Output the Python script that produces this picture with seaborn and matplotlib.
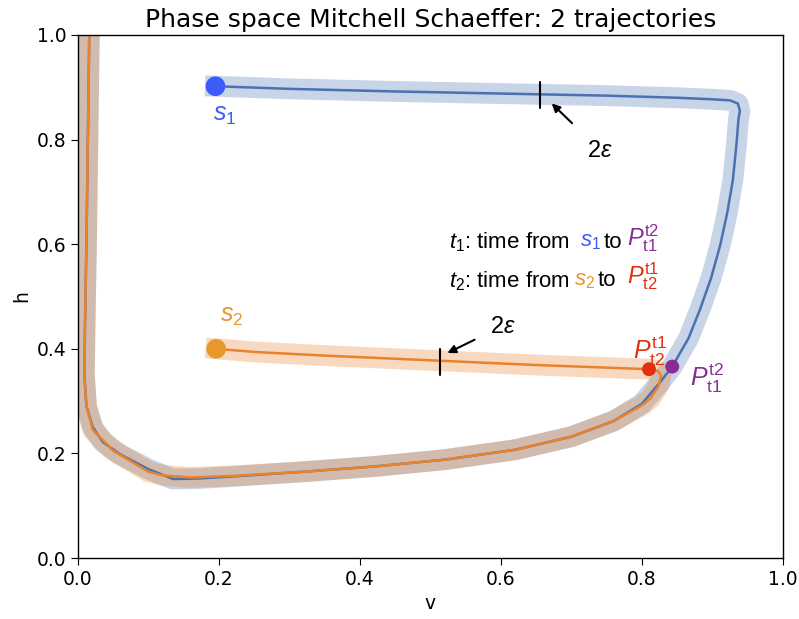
import numpy as np
import pandas as pd
import matplotlib
matplotlib.use("Agg")
import matplotlib.pyplot as plt
import seaborn as sns

# Trajectory 1 (starting at s1): v and h samples along the path
v1 = [0.195, 0.30, 0.45, 0.60, 0.75, 0.85, 0.90, 0.925, 0.936, 0.939, 0.937, 0.934,
      0.929, 0.921, 0.911, 0.898, 0.882, 0.866, 0.854, 0.843, 0.825, 0.80, 0.76, 0.70,
      0.62, 0.52, 0.42, 0.32, 0.22, 0.17, 0.135, 0.10, 0.06, 0.035, 0.021, 0.012,
      0.009, 0.010, 0.012, 0.014, 0.016]
h1 = [0.902, 0.897, 0.892, 0.888, 0.884, 0.880, 0.877, 0.875, 0.869, 0.855, 0.840, 0.790,
      0.723, 0.660, 0.598, 0.535, 0.474, 0.420, 0.392, 0.366, 0.335, 0.295, 0.262, 0.232,
      0.207, 0.188, 0.175, 0.165, 0.156, 0.152, 0.151, 0.170, 0.198, 0.222, 0.250, 0.290,
      0.350, 0.450, 0.600, 0.800, 1.000]

# Trajectory 2 (starting at s2)
v2 = [0.196, 0.25, 0.35, 0.45, 0.55, 0.65, 0.75, 0.81, 0.822, 0.827, 0.824, 0.812,
      0.80, 0.76, 0.70, 0.62, 0.52, 0.42, 0.32, 0.22, 0.16, 0.12, 0.10, 0.05, 0.021,
      0.012, 0.009, 0.010, 0.012, 0.014, 0.016]
h2 = [0.400, 0.394, 0.387, 0.381, 0.375, 0.369, 0.364, 0.361, 0.358, 0.350, 0.330, 0.305,
      0.292, 0.262, 0.232, 0.207, 0.188, 0.175, 0.165, 0.157, 0.154, 0.158, 0.165, 0.205,
      0.245, 0.290, 0.350, 0.450, 0.600, 0.800, 1.000]

# Key points
s1 = (0.195, 0.902)
s2 = (0.196, 0.400)
p_t1 = (0.843, 0.366)   # P_t1^t2 : where trajectory 1 is at time t2
p_t2 = (0.810, 0.361)   # P_t2^t1 : where trajectory 2 is at time t1

# Tube width markers (2 epsilon)
eps_v = [0.655, 0.513]
eps_h = [0.886, 0.374]
eps = 0.025

blue_line = "#4a72b0"
orange_line = "#e8832c"
blue_pt = "#3b5cfa"
orange_pt = "#e8972c"
red_pt = "#e0300f"
purple_pt = "#8a2b98"

sns.set_style("ticks")
plt.rcParams.update({
    "font.size": 13.5,
    "text.color": "black",
    "axes.labelcolor": "black",
    "mathtext.fontset": "custom",
    "mathtext.rm": "Liberation Sans",
    "mathtext.it": "Liberation Sans:italic",
    "mathtext.bf": "Liberation Sans:bold",
    "axes.edgecolor": "black",
    "axes.linewidth": 1.0,
    "xtick.major.size": 5,
    "ytick.major.size": 5,
    "xtick.color": "black",
    "ytick.color": "black",
})
plt.rcParams["font.family"] = ["DejaVu Sans"]

fig = plt.figure(figsize=(7.99, 6.19), dpi=100)
ax = fig.add_axes([0.0976, 0.0985, 0.8823, 0.845])

d1 = pd.DataFrame({"v": v1, "h": h1})
d2 = pd.DataFrame({"v": v2, "h": h2})

# Tubes of width 2*eps around each trajectory
sns.lineplot(data=d1, x="v", y="h", sort=False, estimator=None, ax=ax,
             color=blue_line, alpha=0.3, linewidth=15, solid_capstyle="projecting")
sns.lineplot(data=d2, x="v", y="h", sort=False, estimator=None, ax=ax,
             color=orange_line, alpha=0.3, linewidth=15, solid_capstyle="projecting")
# Trajectories
sns.lineplot(data=d1, x="v", y="h", sort=False, estimator=None, ax=ax,
             color=blue_line, linewidth=1.8)
sns.lineplot(data=d2, x="v", y="h", sort=False, estimator=None, ax=ax,
             color=orange_line, linewidth=1.8)

# Starting points and the two end points
sns.scatterplot(x=[s1[0]], y=[s1[1]], ax=ax, color=blue_pt, s=200, edgecolor="none", zorder=5)
sns.scatterplot(x=[s2[0]], y=[s2[1]], ax=ax, color=orange_pt, s=200, edgecolor="none", zorder=5)
sns.scatterplot(x=[p_t2[0]], y=[p_t2[1]], ax=ax, color=red_pt, s=100, edgecolor="none", zorder=5)
sns.scatterplot(x=[p_t1[0]], y=[p_t1[1]], ax=ax, color=purple_pt, s=100, edgecolor="none", zorder=5)

# 2 epsilon width markers
for vx, hy in zip(eps_v, eps_h):
    ax.plot([vx, vx], [hy - eps, hy + eps], color="black", linewidth=1.5, zorder=4)

tf = dict(family="Liberation Sans", fontsize=16)
ax.annotate(r"$2\varepsilon$", xy=(0.672, 0.869), xytext=(0.722, 0.78),
            ha="left", va="center", fontsize=17,
            arrowprops=dict(arrowstyle="-|>", color="black", lw=1.5, mutation_scale=12,
                            shrinkA=12, shrinkB=0))
ax.annotate(r"$2\varepsilon$", xy=(0.524, 0.392), xytext=(0.585, 0.444),
            ha="left", va="center", fontsize=17,
            arrowprops=dict(arrowstyle="-|>", color="black", lw=1.5, mutation_scale=12,
                            shrinkA=10, shrinkB=0))

ax.text(0.208, 0.847, r"$\mathit{s_1}$", color=blue_pt, ha="center", va="center", fontsize=18)
ax.text(0.218, 0.463, r"$\mathit{s_2}$", color=orange_pt, ha="center", va="center", fontsize=18)
ax.text(0.812, 0.395, r"$P^{\mathrm{t1}}_{\mathrm{t2}}$", color=red_pt, ha="center", va="center", fontsize=18)
ax.text(0.892, 0.343, r"$P^{\mathrm{t2}}_{\mathrm{t1}}$", color=purple_pt, ha="center", va="center", fontsize=18)

# Explanation of t1 and t2 with coloured symbols
ax.text(0.527, 0.604, r"$t_1$: time from", ha="left", va="center", **tf)
ax.text(0.712, 0.604, r"$\mathit{s_1}$", color=blue_pt, ha="left", va="center", fontsize=16)
ax.text(0.745, 0.604, "to", ha="left", va="center", **tf)
ax.text(0.779, 0.612, r"$P^{\mathrm{t2}}_{\mathrm{t1}}$", color=purple_pt, ha="left", va="center", fontsize=17)
ax.text(0.527, 0.530, r"$t_2$: time from", ha="left", va="center", **tf)
ax.text(0.704, 0.530, r"$\mathit{s_2}$", color=orange_pt, ha="left", va="center", fontsize=16)
ax.text(0.737, 0.530, "to", ha="left", va="center", **tf)
ax.text(0.779, 0.538, r"$P^{\mathrm{t1}}_{\mathrm{t2}}$", color=red_pt, ha="left", va="center", fontsize=17)

ax.set_xlim(0, 1)
ax.set_ylim(0, 1)
ax.set_xticks([0, 0.2, 0.4, 0.6, 0.8, 1.0])
ax.set_yticks([0, 0.2, 0.4, 0.6, 0.8, 1.0])
ax.set_xlabel("v")
ax.set_ylabel("h")
ax.set_title("Phase space Mitchell Schaeffer: 2 trajectories", fontsize=18)

fig.savefig("out.png", dpi=100)
